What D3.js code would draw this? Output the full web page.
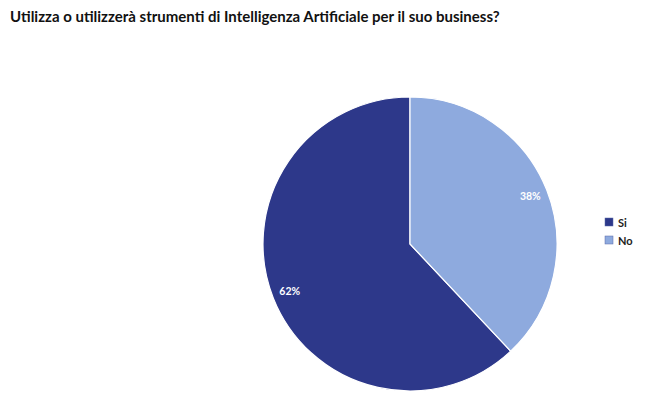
<!DOCTYPE html>
<html><head><meta charset="utf-8">
<script src="https://cdn.jsdelivr.net/npm/d3@7"></script>
<style>body{margin:0;background:#fff;}svg{display:block;}</style>
</head><body>
<script>
const title = "Utilizza o utilizzerà strumenti di Intelligenza Artificiale per il suo business?";
const categories = ["Si", "No"];
const values = [62, 38];
const colors = ["#2d388a", "#8eaade"];

const W = 662, H = 411;
const svg = d3.select("body").append("svg").attr("width", W).attr("height", H);
svg.append("rect").attr("width", W).attr("height", H).attr("fill", "#fff");

svg.append("text").attr("x", 10).attr("y", 22)
  .attr("font-family", "Lato, 'Open Sans', sans-serif").attr("font-weight", "bold")
  .attr("font-size", 15).attr("fill", "#111").text(title);

const cx = 410, cy = 244, r = 147;
const total = d3.sum(values);
const start = -2 * Math.PI * values[0] / total;
const pie = d3.pie().sort(null).startAngle(start).endAngle(start + 2 * Math.PI);
const arcs = pie(values);
const arc = d3.arc().innerRadius(0).outerRadius(r);
const labelArc = d3.arc().innerRadius(r * 0.88).outerRadius(r * 0.88);
const color = d3.scaleOrdinal().domain(categories).range(colors);

const g = svg.append("g").attr("transform", `translate(${cx},${cy})`);
g.selectAll("path").data(arcs).join("path")
  .attr("d", arc).attr("fill", (d, i) => color(categories[i]))
  .attr("stroke", "#fff").attr("stroke-width", 1.2);
g.selectAll("text").data(arcs).join("text")
  .attr("transform", d => `translate(${labelArc.centroid(d)})`)
  .attr("text-anchor", "middle").attr("dy", "0.35em")
  .attr("font-family", "Lato, sans-serif").attr("font-weight", "bold")
  .attr("font-size", 10.5).attr("fill", "#fff")
  .text(d => d.value + "%");

const lg = svg.append("g").attr("transform", "translate(605,218)");
categories.forEach((c, i) => {
  const row = lg.append("g").attr("transform", `translate(0,${i * 18})`);
  row.append("rect").attr("width", 8).attr("height", 8).attr("fill", color(c))
    .attr("stroke", "#5a6aa8").attr("stroke-width", 0.5);
  row.append("text").attr("x", 13).attr("y", 8.5)
    .attr("font-family", "Lato, sans-serif").attr("font-weight", "bold")
    .attr("font-size", 11).attr("fill", "#222").text(c);
});
</script>
</body></html>
